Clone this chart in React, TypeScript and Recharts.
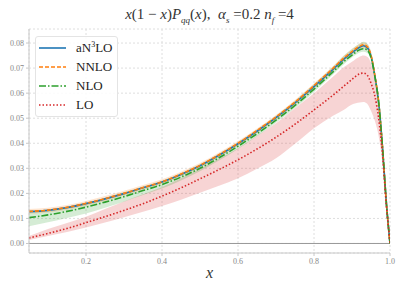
import { ComposedChart, Area, Line, XAxis, YAxis, CartesianGrid, ReferenceLine } from "recharts";

const xs = [0.05, 0.1, 0.15, 0.2, 0.25, 0.3, 0.35, 0.4, 0.45, 0.5, 0.55, 0.6, 0.65, 0.7, 0.75, 0.8, 0.85, 0.88, 0.9, 0.92, 0.93, 0.94, 0.95, 0.96, 0.97, 0.98, 0.99, 1.0];

const an3lo = [0.0127, 0.0132, 0.0143, 0.0159, 0.0178, 0.0199, 0.0222, 0.0245, 0.0275, 0.031, 0.0352, 0.0398, 0.0448, 0.0502, 0.0561, 0.0626, 0.0695, 0.0738, 0.0762, 0.0783, 0.0789, 0.0782, 0.0748, 0.067, 0.0565, 0.039, 0.017, 0];
const nnlo = [0.0128, 0.0133, 0.0144, 0.016, 0.0179, 0.02, 0.0223, 0.0246, 0.0277, 0.0312, 0.0354, 0.04, 0.0451, 0.0505, 0.0564, 0.063, 0.0699, 0.0742, 0.0766, 0.0787, 0.0793, 0.0786, 0.0752, 0.0673, 0.0567, 0.0391, 0.017, 0];
const nlo = [0.0103, 0.0114, 0.0128, 0.0145, 0.0165, 0.0187, 0.0211, 0.0235, 0.0265, 0.03, 0.0342, 0.0388, 0.0438, 0.0492, 0.0551, 0.0616, 0.0685, 0.0728, 0.0752, 0.0773, 0.0777, 0.0772, 0.0742, 0.0668, 0.0565, 0.039, 0.017, 0];
const lo = [0.0022, 0.004, 0.006, 0.0083, 0.0107, 0.0132, 0.0159, 0.0189, 0.0222, 0.0258, 0.0295, 0.0334, 0.0377, 0.0424, 0.0476, 0.0533, 0.0592, 0.063, 0.0655, 0.0677, 0.068, 0.0672, 0.064, 0.059, 0.05, 0.036, 0.016, 0];

const loLow = [0.0014, 0.003, 0.0046, 0.0064, 0.0084, 0.0105, 0.0127, 0.015, 0.0175, 0.0202, 0.023, 0.026, 0.0298, 0.034, 0.0398, 0.046, 0.051, 0.0535, 0.0555, 0.0563, 0.0565, 0.0558, 0.053, 0.049, 0.043, 0.032, 0.013, 0];
const loHigh = [0.003, 0.0058, 0.0082, 0.0107, 0.0138, 0.0168, 0.0196, 0.0225, 0.026, 0.0298, 0.0338, 0.038, 0.043, 0.048, 0.054, 0.06, 0.0665, 0.0705, 0.0725, 0.0745, 0.075, 0.0745, 0.072, 0.066, 0.057, 0.042, 0.02, 0];
const nloLow = [0.0069, 0.0085, 0.0102, 0.012, 0.0143, 0.0167, 0.0193, 0.0219, 0.0251, 0.0288, 0.0331, 0.0377, 0.0428, 0.0482, 0.0541, 0.0605, 0.0674, 0.0717, 0.0742, 0.0762, 0.0765, 0.076, 0.0735, 0.066, 0.056, 0.0385, 0.0165, 0];
const nloHigh = [0.013, 0.0135, 0.0147, 0.0163, 0.0182, 0.0204, 0.0227, 0.025, 0.028, 0.0316, 0.0358, 0.0404, 0.0455, 0.051, 0.057, 0.0636, 0.0706, 0.0752, 0.0777, 0.0798, 0.0805, 0.0798, 0.0765, 0.068, 0.058, 0.041, 0.018, 0];
const nnloLow = [0.0119, 0.0124, 0.0135, 0.0151, 0.017, 0.0191, 0.0214, 0.0237, 0.0267, 0.0302, 0.0344, 0.039, 0.044, 0.0494, 0.0553, 0.0618, 0.0687, 0.073, 0.0754, 0.0775, 0.078, 0.0774, 0.0742, 0.0665, 0.056, 0.0386, 0.0167, 0];
const nnloHigh = [0.0138, 0.0143, 0.0154, 0.017, 0.0189, 0.021, 0.0233, 0.0256, 0.0286, 0.0321, 0.0363, 0.0409, 0.0459, 0.0513, 0.0573, 0.0638, 0.0707, 0.0751, 0.0775, 0.0797, 0.0803, 0.0796, 0.0761, 0.0681, 0.0574, 0.0396, 0.0173, 0];

const xTicks = [0.2, 0.4, 0.6, 0.8, 1.0];
const yTicks = [0, 0.01, 0.02, 0.03, 0.04, 0.05, 0.06, 0.07, 0.08];

const data = xs.map((x, i) => ({
  x,
  an3lo: an3lo[i],
  nnlo: nnlo[i],
  nlo: nlo[i],
  lo: lo[i],
  loBand: [loLow[i], loHigh[i]],
  nloBand: [nloLow[i], nloHigh[i]],
  nnloBand: [nnloLow[i], nnloHigh[i]],
}));

const font = "Liberation Serif";

const legendItems = [
  { label: <>aN<sup style={{ fontSize: 8, verticalAlign: 5 }}>3</sup>LO</>, color: "#1f77b4", dash: undefined },
  { label: "NNLO", color: "#ff7f0e", dash: "4 2" },
  { label: "NLO", color: "#2ca02c", dash: "7 2 1.5 2" },
  { label: "LO", color: "#d62728", dash: "1.5 2" },
];

const tickStyle = { fill: "#888", fontSize: 8, fontFamily: font };

export default function App() {
  return (
    <div style={{ position: "absolute", left: 0, top: 0, width: 407, height: 291, background: "#fff", fontFamily: font }}>
      <div
        style={{
          position: "absolute",
          left: 29,
          width: 361,
          top: 6,
          textAlign: "center",
          fontSize: 15,
          color: "#333",
          whiteSpace: "nowrap",
        }}
      >
        <i>x</i>(1 − <i>x</i>)<i>P</i>
        <sub style={{ fontSize: 9 }}>
          <i>qq</i>
        </sub>
        (<i>x</i>),&nbsp; <i>α</i>
        <sub style={{ fontSize: 9 }}>
          <i>s</i>
        </sub>{" "}
        =0.2 <i>n</i>
        <sub style={{ fontSize: 9 }}>
          <i>f</i>
        </sub>{" "}
        =4
      </div>
      <ComposedChart width={407} height={291} data={data} margin={{ top: 29, right: 17, bottom: 0, left: 0 }} style={{ fontFamily: font }}>
        <CartesianGrid stroke="#dedede" strokeDasharray="2 2" />
        <XAxis
          dataKey="x"
          type="number"
          domain={[0.05, 1.0]}
          ticks={xTicks}
          tickFormatter={(v: number) => v.toFixed(1)}
          allowDataOverflow
          height={38}
          tickSize={3}
          stroke="#c8c8c8"
          tick={tickStyle}
          label={{ value: "x", position: "insideBottom", offset: 13, style: { fontFamily: font, fontStyle: "italic", fontSize: 16, fill: "#333" } }}
        />
        <XAxis xAxisId="top" orientation="top" dataKey="x" type="number" domain={[0.05, 1.0]} height={0} tick={false} tickLine={false} stroke="#c8c8c8" />
        <YAxis
          type="number"
          domain={[-0.0038, 0.0856]}
          ticks={yTicks}
          allowDataOverflow
          width={29}
          tickSize={3}
          stroke="#c8c8c8"
          tickFormatter={(v: number) => v.toFixed(2)}
          tick={tickStyle}
        />
        <YAxis yAxisId="right" orientation="right" domain={[-0.0038, 0.0856]} width={0} tick={false} tickLine={false} stroke="#c8c8c8" />
        <ReferenceLine y={0} stroke="#999" strokeWidth={1} />
        <Area dataKey="loBand" type="monotone" stroke="none" fill="#d62728" fillOpacity={0.2} isAnimationActive={false} />
        <Area dataKey="nloBand" type="monotone" stroke="none" fill="#2ca02c" fillOpacity={0.2} isAnimationActive={false} />
        <Area dataKey="nnloBand" type="monotone" stroke="none" fill="#ff7f0e" fillOpacity={0.2} isAnimationActive={false} />
        <Line dataKey="an3lo" type="monotone" stroke="#1f77b4" strokeWidth={1.6} dot={false} isAnimationActive={false} />
        <Line dataKey="nnlo" type="monotone" stroke="#ff7f0e" strokeWidth={1.6} strokeDasharray="4 2" dot={false} isAnimationActive={false} />
        <Line dataKey="nlo" type="monotone" stroke="#2ca02c" strokeWidth={1.6} strokeDasharray="7 2 1.5 2" dot={false} isAnimationActive={false} />
        <Line dataKey="lo" type="monotone" stroke="#d62728" strokeWidth={1.6} strokeDasharray="1.5 2" dot={false} isAnimationActive={false} />
      </ComposedChart>
      <div
        style={{
          position: "absolute",
          left: 35,
          top: 36,
          width: 83,
          boxSizing: "border-box",
          background: "rgba(255,255,255,0.85)",
          border: "1px solid #e4e4e4",
          borderRadius: 3,
          padding: "1px 0 1px 3px",
          fontSize: 13,
          color: "#222",
        }}
      >
        {legendItems.map((item, i) => (
          <div key={i} style={{ display: "flex", alignItems: "center", height: 19.2 }}>
            <svg width={27} height={6} style={{ marginRight: 10, flex: "none" }}>
              <line x1={0} y1={3} x2={27} y2={3} stroke={item.color} strokeWidth={1.6} strokeDasharray={item.dash} />
            </svg>
            <span>{item.label}</span>
          </div>
        ))}
      </div>
    </div>
  );
}
